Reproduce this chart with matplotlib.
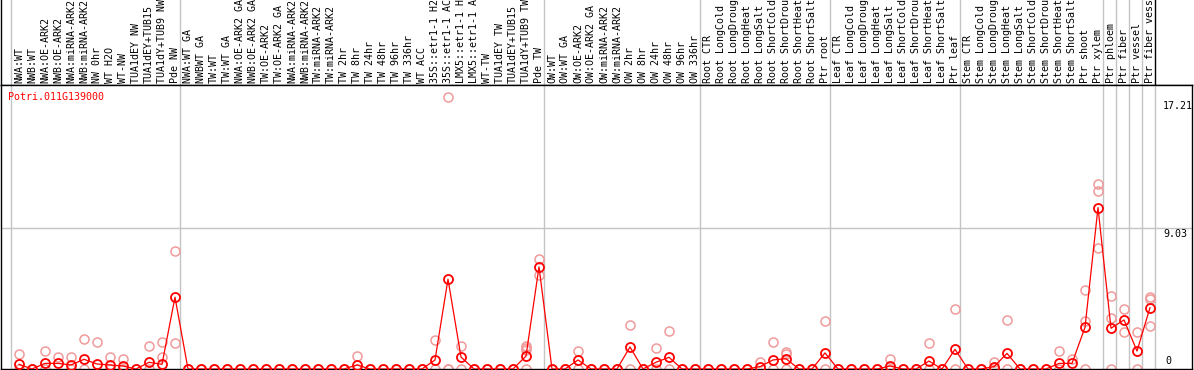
import numpy as np
import matplotlib
matplotlib.use("Agg")
from matplotlib import pyplot as plt
import matplotlib.transforms as mtransforms

## column labels, left to right (as printed, cut to 14 chars)
labels = [
    "NWA:WT", "NWB:WT", "NWA:OE-ARK2", "NWB:OE-ARK2", "NWA:miRNA-ARK2", "NWB:miRNA-ARK2",
    "NW 0hr", "WT H2O", "WT-NW", "TUA1dEY NW", "TUA1dEY+TUB15", "TUA1dY+TUB9 NW", "Pde NW",
    "NWA:WT GA", "NWBWT GA", "TW:WT", "TW:WT GA", "NWA:OE-ARK2 GA", "NWB:OE-ARK2 GA",
    "TW:OE-ARK2", "TW:OE-ARK2 GA", "NWA:miRNA-ARK2", "NWB:miRNA-ARK2", "TW:miRNA-ARK2",
    "TW:miRNA-ARK2", "TW 2hr", "TW 8hr", "TW 24hr", "TW 48hr", "TW 96hr", "TW 336hr",
    "WT ACC", "35S::etr1-1 H2", "35S::etr1-1 AC", "LMX5::etr1-1 H", "LMX5::etr1-1 A",
    "WT-TW", "TUA1dEY TW", "TUA1dEY+TUB15", "TUA1dY+TUB9 TW", "Pde TW",
    "OW:WT", "OW:WT GA", "OW:OE-ARK2", "OW:OE-ARK2 GA", "OW:miRNA-ARK2", "OW:miRNA-ARK2",
    "OW 2hr", "OW 8hr", "OW 24hr", "OW 48hr", "OW 96hr", "OW 336hr",
    "Root CTR", "Root LongCold", "Root LongDroug", "Root LongHeat", "Root LongSalt",
    "Root ShortCold", "Root ShortDrou", "Root ShortHeat", "Root ShortSalt", "Ptr root",
    "Leaf CTR", "Leaf LongCold", "Leaf LongDroug", "Leaf LongHeat", "Leaf LongSalt",
    "Leaf ShortCold", "Leaf ShortDrou", "Leaf ShortHeat", "Leaf ShortSalt", "Ptr leaf",
    "Stem CTR", "Stem LongCold", "Stem LongDroug", "Stem LongHeat", "Stem LongSalt",
    "Stem ShortCold", "Stem ShortDrou", "Stem ShortHeat", "Stem ShortSalt", "Ptr shoot",
    "Ptr xylem", "Ptr phloem", "Ptr fiber", "Ptr vessel", "Ptr fiber vess",
]

## mean expression per column
main = [
    0.30, 0, 0.36, 0.36, 0.26, 0.62, 0.32, 0.26, 0.19, 0, 0.43, 0.30, 4.60,
    0, 0, 0, 0, 0, 0, 0, 0, 0, 0, 0, 0, 0, 0.26, 0, 0, 0, 0, 0,
    0.58, 5.75, 0.77, 0, 0, 0, 0, 0.83, 6.54,
    0, 0, 0.58, 0, 0, 0, 1.41, 0, 0.43, 0.75, 0, 0,
    0, 0, 0, 0, 0.15, 0.58, 0.66, 0, 0, 1.03,
    0, 0, 0, 0, 0.19, 0, 0, 0.51, 0, 1.26,
    0, 0, 0.15, 1.00, 0, 0, 0, 0.36, 0.36, 2.67, 10.34,
    2.61, 3.14, 1.15, 3.93,
]

## replicate values (only columns that differ from [0, 0])
reps = {
    0: [0.94, 0], 1: [0], 2: [1.15, 0], 3: [0.77], 4: [0.77, 0], 5: [1.92, 0],
    6: [1.71], 7: [0.77, 0], 8: [0.64, 0], 9: [0], 10: [1.47, 0], 11: [1.71, 0.77],
    12: [7.54, 1.64], 26: [0.83, 0], 32: [1.86, 0], 33: [17.4, 0, 0], 34: [1.47, 0],
    39: [1.50, 1.35, 1.20, 0], 40: [7.05, 6.03], 43: [1.15, 0], 47: [2.80, 0],
    49: [1.32, 0], 50: [2.43, 0], 57: [0.45], 58: [1.73, 0], 59: [1.10, 0.96, 0],
    62: [3.08, 0], 67: [0.64, 0], 70: [1.67, 0], 72: [3.83, 0], 75: [0.45, 0],
    76: [3.12, 0], 80: [1.13, 0], 81: [0.66], 82: [5.04, 3.10, 0],
    83: [11.86, 11.39, 7.76], 84: [4.66, 3.27, 0], 85: [3.83, 2.39], 86: [2.35, 0],
    87: [4.63, 4.50, 2.76],
}

## last column index of each group (group separators)
group_ends = [-1, 12, 40, 52, 62, 72, 83, 84, 85, 86, 87]
ytick_vals = [17.21, 9.03]
gene = "Potri.011G139000"

W, H = 1194, 370
RED = "#ff0000"
PALE = "#f09a9a"
GRID = "#c4c4c4"
FONT = "DejaVu Sans Mono"
FS = 7.2

x = np.arange(len(labels))
xlim = ((1 - 19) / 13.0, (1192 - 19) / 13.0)
ymax = 9.03 * 284 / 141.0

fig = plt.figure(figsize=(W / 100, H / 100), dpi=100)
fig.patch.set_facecolor("white")

# header with rotated labels
axh = fig.add_axes([1 / W, 1 - 85 / H, 1191 / W, 85 / H])
axh.set_xlim(xlim)
axh.set_ylim(0, 1)
axh.set_xticks([])
axh.set_yticks([])
for s in ["top", "right"]:
    axh.spines[s].set_visible(False)
axh.spines["left"].set_linewidth(1.0)
axh.spines["bottom"].set_linewidth(1.0)
for g in group_ends:
    axh.axvline(g + 0.38, color="black" if g == 87 else GRID, lw=1.0, zorder=1)
trans = mtransforms.blended_transform_factory(axh.transData, axh.transAxes)
for i, lab in enumerate(labels):
    axh.text(i, 2 / 85, lab, rotation=90, ha="center", va="bottom",
             fontsize=FS, family=FONT, transform=trans, clip_on=True)

# main plot
ax = fig.add_axes([1 / W, 1 / H, 1191 / W, 284 / H])
ax.set_xlim(xlim)
ax.set_ylim(0, ymax)
ax.set_xticks([])
ax.set_yticks([])
for s in ax.spines.values():
    s.set_linewidth(1.0)
    s.set_color("black")
for g in group_ends:
    ax.axvline(g + 0.38, color=GRID, lw=1.0, zorder=0)
ax.axhline(9.03, color=GRID, lw=1.0, zorder=0)

for i in x:
    vals = reps.get(i, [0, 0])
    ax.plot([i] * len(vals), vals, "o", ms=6.5, mfc="none", mec=PALE, mew=1.1, zorder=2)

ax.plot(x, main, "-", color=RED, lw=0.9, zorder=3)
ax.plot(x, main, "o", ms=6.5, mfc="none", mec=RED, mew=1.3, zorder=4)

ax.text(7 / 1191, 1 - 7 / 284, gene, color=RED, fontsize=FS, family=FONT,
        ha="left", va="top", transform=ax.transAxes)
for v in ytick_vals:
    ax.text((1163 - 19) / 13.0, v - 0.05, f"{v:.2f}", fontsize=FS, family=FONT,
            ha="left", va="top")
ax.text((1165 - 19) / 13.0, 0.2, "0", fontsize=FS, family=FONT, ha="left", va="bottom")

fig.savefig("out.png", dpi=100)
